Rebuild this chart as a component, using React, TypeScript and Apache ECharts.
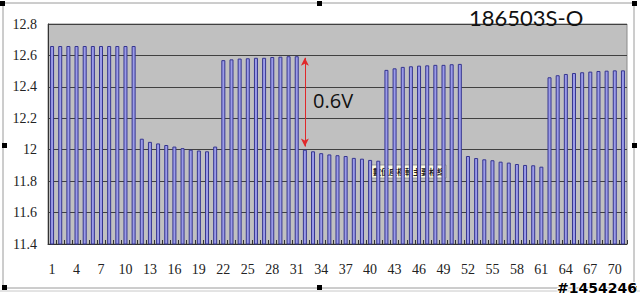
import React, { useEffect, useRef } from "react";
import * as echarts from "echarts";

const categories = [
  "1","2","3","4","5","6","7","8","9","10",
  "11","12","13","14","15","16","17","18","19","20",
  "21","22","23","24","25","26","27","28","29","30",
  "31","32","33","34","35","36","37","38","39","40",
  "41","42","43","44","45","46","47","48","49","50",
  "51","52","53","54","55","56","57","58","59","60",
  "61","62","63","64","65","66","67","68","69","70","71",
];

const voltage = [
  12.66, 12.66, 12.66, 12.66, 12.66, 12.66, 12.66, 12.66, 12.66, 12.66, 12.66,
  12.07, 12.05, 12.04, 12.03, 12.02, 12.01, 12.0, 11.995, 11.99, 12.02,
  12.57, 12.575, 12.58, 12.582, 12.585, 12.585, 12.59, 12.592, 12.595, 12.595,
  12.0, 11.99, 11.978, 11.97, 11.965, 11.96, 11.948, 11.943, 11.935, 11.93,
  12.508, 12.518, 12.527, 12.531, 12.535, 12.537, 12.54, 12.54, 12.544, 12.546,
  11.96, 11.947, 11.939, 11.933, 11.924, 11.918, 11.909, 11.903, 11.901, 11.892,
  12.461, 12.474, 12.482, 12.488, 12.493, 12.497, 12.501, 12.503, 12.505, 12.505,
];

const yMin = 11.4;
const yMax = 12.8;
const yStep = 0.2;

const titleText = "186503S-O";
const deltaText = "0.6V";
const deltaCategory = "32";
const deltaTop = 12.585;
const deltaBottom = 12.02;
const tipText = "數值座標軸主要格線";
const watermark = "#1454246";

export default function App() {
  const ref = useRef<HTMLDivElement>(null);

  useEffect(() => {
    if (!ref.current) return;
    const chart = echarts.init(ref.current, null, { renderer: "svg" });
    const handles = [
      [0, 1], [317, 1], [632, 1],
      [2, 143], [632, 143],
      [2, 285], [317, 285], [632, 286],
    ];
    chart.setOption({
      animation: false,
      backgroundColor: "#ffffff",
      title: {
        text: titleText,
        left: 464,
        top: 1,
        textStyle: {
          fontFamily: "Lato",
          fontSize: 22,
          fontWeight: "normal",
          color: "#111",
        },
      },
      grid: {
        left: 48,
        right: 13,
        top: 24,
        bottom: 53,
        show: true,
        backgroundColor: "#c0c0c0",
        borderColor: "#8a8a8a",
        borderWidth: 1,
      },
      xAxis: {
        type: "category",
        data: categories,
        axisLine: { lineStyle: { color: "#333", width: 1 } },
        axisTick: {
          show: true,
          inside: true,
          length: 4,
          lineStyle: { color: "#333" },
          interval: 0,
        },
        axisLabel: {
          interval: 2,
          fontFamily: "Liberation Serif",
          fontSize: 14,
          color: "#222",
          margin: 18,
        },
      },
      yAxis: {
        type: "value",
        min: yMin,
        max: yMax,
        interval: yStep,
        axisLine: { show: true, lineStyle: { color: "#333", width: 1 } },
        axisTick: { show: false },
        splitLine: { lineStyle: { color: "#404040", width: 1 } },
        axisLabel: {
          fontFamily: "Liberation Serif",
          fontSize: 14,
          color: "#222",
          margin: 11,
        },
      },
      series: [
        {
          type: "bar",
          data: voltage,
          barWidth: 4,
          itemStyle: {
            color: "#9b9be8",
            borderColor: "#35358f",
            borderWidth: 1,
          },
          markLine: {
            silent: true,
            symbol: ["arrow", "arrow"],
            symbolSize: [6, 8],
            lineStyle: { color: "#e0282a", type: "solid", width: 1 },
            label: { show: false },
            data: [
              [
                { coord: [deltaCategory, deltaTop] },
                { coord: [deltaCategory, deltaBottom] },
              ],
            ],
          },
        },
      ],
      graphic: [
        {
          type: "rect",
          shape: { x: 3, y: 3, width: 631, height: 285 },
          style: { fill: "none", stroke: "#9a9a9a", lineWidth: 1 },
          silent: true,
        },
        {
          type: "line",
          shape: { x1: 0, y1: 291, x2: 640, y2: 291 },
          style: { stroke: "#c8c8c8", lineWidth: 1 },
        },
        {
          type: "text",
          x: 313,
          y: 90,
          style: {
            text: deltaText,
            fontFamily: "Open Sans",
            fontSize: 20,
            fill: "#111",
          },
        },
        {
          type: "group",
          x: 371,
          y: 165,
          children: [
            {
              type: "rect",
              shape: { x: 0, y: 0, width: 75, height: 13 },
              style: { fill: "#ffffe1", stroke: "#888", lineWidth: 0.8 },
            },
            {
              type: "text",
              x: 2,
              y: 2,
              style: {
                text: tipText,
                fontFamily: "Noto Sans CJK TC",
                fontSize: 8,
                fontWeight: "bold",
                fill: "#222",
              },
            },
          ],
        },
        ...handles.map(([x, y]) => ({
          type: "rect",
          shape: { x, y, width: 5, height: 5 },
          style: { fill: "#000" },
        })),
        {
          type: "text",
          right: 2,
          bottom: 1,
          style: {
            text: watermark,
            fontFamily: "DejaVu Sans",
            fontSize: 14,
            fontWeight: "bold",
            fill: "#000",
            stroke: "#fff",
            lineWidth: 2,
          },
        },
      ],
    });
    return () => chart.dispose();
  }, []);

  return (
    <div
      ref={ref}
      style={{ position: "fixed", left: 0, top: 0, width: 640, height: 297 }}
    />
  );
}
